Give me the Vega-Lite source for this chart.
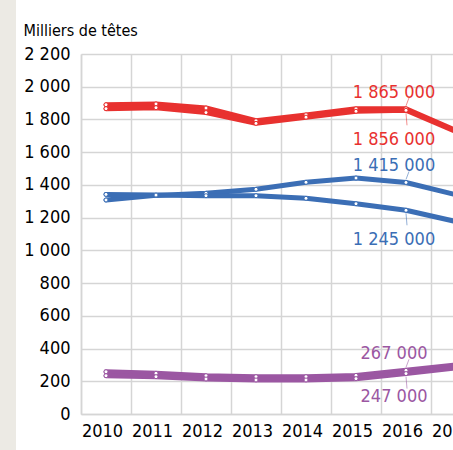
{
  "$schema": "https://vega.github.io/schema/vega-lite/v6.json",
  "width": 372,
  "height": 360,
  "autosize": {"type": "none"},
  "padding": {"left": 81, "top": 54, "right": 0, "bottom": 36},
  "background": "white",
  "config": {
    "view": {"stroke": null},
    "font": "DejaVu Sans Condensed, Roboto, sans-serif",
    "axis": {"labelFont": "DejaVu Sans Condensed, Roboto, sans-serif", "titleFont": "DejaVu Sans Condensed, Roboto, sans-serif"},
    "text": {"font": "DejaVu Sans Condensed, Roboto, sans-serif"}
  },
  "datasets": {
    "lines": [
      {"s": "r1", "g": "rouge", "year": 2010, "v": 1890},
      {"s": "r1", "g": "rouge", "year": 2011, "v": 1895},
      {"s": "r1", "g": "rouge", "year": 2012, "v": 1870},
      {"s": "r1", "g": "rouge", "year": 2013, "v": 1792},
      {"s": "r1", "g": "rouge", "year": 2014, "v": 1828},
      {"s": "r1", "g": "rouge", "year": 2015, "v": 1865},
      {"s": "r1", "g": "rouge", "year": 2016, "v": 1865},
      {"s": "r1", "g": "rouge", "year": 2017, "v": 1732},
      {"s": "r2", "g": "rouge", "year": 2010, "v": 1866},
      {"s": "r2", "g": "rouge", "year": 2011, "v": 1872},
      {"s": "r2", "g": "rouge", "year": 2012, "v": 1842},
      {"s": "r2", "g": "rouge", "year": 2013, "v": 1776},
      {"s": "r2", "g": "rouge", "year": 2014, "v": 1814},
      {"s": "r2", "g": "rouge", "year": 2015, "v": 1850},
      {"s": "r2", "g": "rouge", "year": 2016, "v": 1856},
      {"s": "r2", "g": "rouge", "year": 2017, "v": 1726},
      {"s": "b1", "g": "bleu", "year": 2010, "v": 1308},
      {"s": "b1", "g": "bleu", "year": 2011, "v": 1336},
      {"s": "b1", "g": "bleu", "year": 2012, "v": 1349},
      {"s": "b1", "g": "bleu", "year": 2013, "v": 1373},
      {"s": "b1", "g": "bleu", "year": 2014, "v": 1416},
      {"s": "b1", "g": "bleu", "year": 2015, "v": 1442},
      {"s": "b1", "g": "bleu", "year": 2016, "v": 1415},
      {"s": "b1", "g": "bleu", "year": 2017, "v": 1340},
      {"s": "b2", "g": "bleu", "year": 2010, "v": 1342},
      {"s": "b2", "g": "bleu", "year": 2011, "v": 1338},
      {"s": "b2", "g": "bleu", "year": 2012, "v": 1334},
      {"s": "b2", "g": "bleu", "year": 2013, "v": 1334},
      {"s": "b2", "g": "bleu", "year": 2014, "v": 1318},
      {"s": "b2", "g": "bleu", "year": 2015, "v": 1285},
      {"s": "b2", "g": "bleu", "year": 2016, "v": 1245},
      {"s": "b2", "g": "bleu", "year": 2017, "v": 1176},
      {"s": "p1", "g": "violet", "year": 2010, "v": 258},
      {"s": "p1", "g": "violet", "year": 2011, "v": 249},
      {"s": "p1", "g": "violet", "year": 2012, "v": 234},
      {"s": "p1", "g": "violet", "year": 2013, "v": 228},
      {"s": "p1", "g": "violet", "year": 2014, "v": 228},
      {"s": "p1", "g": "violet", "year": 2015, "v": 236},
      {"s": "p1", "g": "violet", "year": 2016, "v": 267},
      {"s": "p1", "g": "violet", "year": 2017, "v": 300},
      {"s": "p2", "g": "violet", "year": 2010, "v": 234},
      {"s": "p2", "g": "violet", "year": 2011, "v": 228},
      {"s": "p2", "g": "violet", "year": 2012, "v": 214},
      {"s": "p2", "g": "violet", "year": 2013, "v": 208},
      {"s": "p2", "g": "violet", "year": 2014, "v": 208},
      {"s": "p2", "g": "violet", "year": 2015, "v": 216},
      {"s": "p2", "g": "violet", "year": 2016, "v": 247},
      {"s": "p2", "g": "violet", "year": 2017, "v": 282}
    ],
    "labels": [
      {"g": "rouge", "year": 2016, "v": 1865, "label": "1 865 000", "pos": "above"},
      {"g": "rouge", "year": 2016, "v": 1856, "label": "1 856 000", "pos": "below"},
      {"g": "bleu", "year": 2016, "v": 1415, "label": "1 415 000", "pos": "above"},
      {"g": "bleu", "year": 2016, "v": 1245, "label": "1 245 000", "pos": "below"},
      {"g": "violet", "year": 2016, "v": 267, "label": "267 000", "pos": "above"},
      {"g": "violet", "year": 2016, "v": 247, "label": "247 000", "pos": "below"}
    ]
  },
  "resolve": {"axis": {"x": "independent"}},
  "layer": [
    {
      "data": {"values": [{}]},
      "mark": {"type": "rect", "fill": "#ECEAE4", "clip": false},
      "encoding": {
        "x": {"datum": 2007.88, "type": "quantitative", "axis": null,
          "scale": {"domain": [2009.5, 2017.5], "range": [0, 400], "nice": false, "zero": false}},
        "x2": {"datum": 2008.2},
        "y": {
          "datum": 2600, "type": "quantitative",
          "scale": {"domain": [0, 2200], "nice": false, "zero": true},
          "axis": {
            "values": [0, 200, 400, 600, 800, 1000, 1200, 1400, 1600, 1800, 2000, 2200],
            "tickCount": 30,
            "labelExpr": "replace(format(datum.value, ','), ',', ' ')",
            "labelOverlap": false,
            "grid": true, "gridColor": "#d5d5d5", "gridWidth": 1.5,
            "domain": true, "domainColor": "#d5d5d5", "domainWidth": 1.5,
            "ticks": false, "labelPadding": 11, "labelFontSize": 18, "labelColor": "#000000",
            "title": "Milliers de têtes", "titleAngle": 0, "titleAlign": "left",
            "titleBaseline": "alphabetic", "titleX": -58, "titleY": -19,
            "titleFontSize": 16, "titleFontWeight": "normal", "titleColor": "#000000"
          }
        },
        "y2": {"datum": -300}
      }
    },
    {
      "data": {"name": "lines"},
      "mark": {"type": "rule", "opacity": 0},
      "encoding": {
        "x": {
          "field": "year", "type": "quantitative",
          "axis": {
            "orient": "bottom",
            "values": [2009.5, 2010.5, 2011.5, 2012.5, 2013.5, 2014.5, 2015.5, 2016.5],
            "tickCount": 30,
            "grid": true, "gridColor": "#d5d5d5", "gridWidth": 1.5,
            "labels": false, "ticks": false, "domain": false, "title": null
          }
        },
        "y": {"field": "v", "type": "quantitative"}
      }
    },
    {
      "data": {"name": "lines"},
      "mark": {"type": "line", "strokeWidth": 5, "strokeJoin": "round", "strokeCap": "round"},
      "encoding": {
        "x": {
          "field": "year", "type": "quantitative",
          "axis": {
            "orient": "bottom",
            "values": [2010, 2011, 2012, 2013, 2014, 2015, 2016, 2017],
            "tickCount": 30,
            "format": "d", "grid": false, "ticks": false,
            "domain": true, "domainColor": "#d5d5d5", "domainWidth": 1.5,
            "labelFontSize": 18, "labelColor": "#000000", "labelPadding": 8,
            "labelOffset": -4, "labelFlush": false, "labelOverlap": false, "title": null
          }
        },
        "y": {"field": "v", "type": "quantitative"},
        "detail": {"field": "s"},
        "color": {
          "field": "g", "type": "nominal", "legend": null,
          "scale": {"domain": ["rouge", "bleu", "violet"], "range": ["#e8312f", "#3b6eb5", "#9b57a2"]}
        }
      }
    },
    {
      "data": {"name": "lines"},
      "mark": {"type": "point", "filled": false, "fill": "white", "fillOpacity": 1, "size": 16, "strokeWidth": 1},
      "encoding": {
        "x": {"field": "year", "type": "quantitative", "axis": null},
        "y": {"field": "v", "type": "quantitative"},
        "color": {"field": "g", "type": "nominal", "legend": null}
      }
    },
    {
      "data": {"name": "labels"},
      "transform": [{"filter": "datum.pos === 'above'"}],
      "mark": {"type": "rule", "strokeWidth": 1, "opacity": 0.55, "yOffset": -3, "y2Offset": -11, "x2Offset": 3},
      "encoding": {
        "x": {"field": "year", "type": "quantitative", "axis": null},
        "x2": {"field": "year"},
        "y": {"field": "v", "type": "quantitative"},
        "y2": {"field": "v"},
        "color": {"field": "g", "type": "nominal", "legend": null}
      }
    },
    {
      "data": {"name": "labels"},
      "transform": [{"filter": "datum.pos === 'below'"}],
      "mark": {"type": "rule", "strokeWidth": 1, "opacity": 0.55, "yOffset": 3, "y2Offset": 15, "x2Offset": 1},
      "encoding": {
        "x": {"field": "year", "type": "quantitative", "axis": null},
        "x2": {"field": "year"},
        "y": {"field": "v", "type": "quantitative"},
        "y2": {"field": "v"},
        "color": {"field": "g", "type": "nominal", "legend": null}
      }
    },
    {
      "data": {"name": "labels"},
      "transform": [{"filter": "datum.pos === 'above'"}],
      "mark": {"type": "text", "fontSize": 18, "align": "center", "baseline": "alphabetic", "dx": -12, "dy": -11},
      "encoding": {
        "x": {"field": "year", "type": "quantitative", "axis": null},
        "y": {"field": "v", "type": "quantitative"},
        "text": {"field": "label"},
        "color": {"field": "g", "type": "nominal", "legend": null}
      }
    },
    {
      "data": {"name": "labels"},
      "transform": [{"filter": "datum.pos === 'below' && datum.g !== 'violet'"}],
      "mark": {"type": "text", "fontSize": 18, "align": "center", "baseline": "alphabetic", "dx": -12, "dy": 35},
      "encoding": {
        "x": {"field": "year", "type": "quantitative", "axis": null},
        "y": {"field": "v", "type": "quantitative"},
        "text": {"field": "label"},
        "color": {"field": "g", "type": "nominal", "legend": null}
      }
    },
    {
      "data": {"name": "labels"},
      "transform": [{"filter": "datum.pos === 'below' && datum.g === 'violet'"}],
      "mark": {"type": "text", "fontSize": 18, "align": "center", "baseline": "alphabetic", "dx": -12, "dy": 28},
      "encoding": {
        "x": {"field": "year", "type": "quantitative", "axis": null},
        "y": {"field": "v", "type": "quantitative"},
        "text": {"field": "label"},
        "color": {"field": "g", "type": "nominal", "legend": null}
      }
    }
  ]
}
